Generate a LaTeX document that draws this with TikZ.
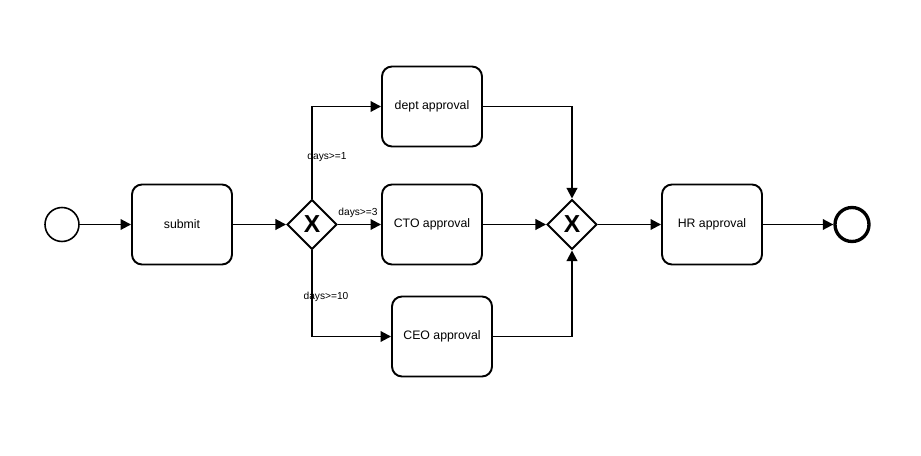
\documentclass[tikz,border=0pt]{standalone}
\usepackage{fontspec}
\setmainfont{Liberation Sans}
\usetikzlibrary{shapes.geometric,arrows.meta}
\begin{document}
\begin{tikzpicture}[x=0.02cm,y=-0.02cm,
task/.style={draw,line width=1.1pt,rounded corners=0.2cm,minimum width=2cm,minimum height=1.6cm,font=\fontsize{7}{8}\selectfont},
gate/.style={draw,diamond,line width=1.1pt,minimum size=1cm,inner sep=0pt,font=\fontsize{14}{14}\selectfont\bfseries},
event/.style={draw,circle,minimum size=0.68cm,inner sep=0pt},
cond/.style={font=\fontsize{5.8}{6}\selectfont,inner sep=1pt},
flow/.style={line width=1.1pt,-{Triangle[length=6pt,width=6pt]}}]
\useasboundingbox (0,0) rectangle (921,456);

%%%% nodes
%%%%
\node[event,line width=0.9pt](start) at(62,224.5) {};
\node[event,line width=1.9pt](stop) at(852,224.5) {};
\node[gate](g1) at(312,224.5) {X};
\node[gate](g2) at(572,224.5) {X};

\foreach \n \x \y \t in{
submit/182/224.5/submit,dept/432/106.5/dept approval,cto/432/224.5/CTO approval,%
ceo/442/336.5/CEO approval,hr/712/224.5/HR approval%
}{
\node[task](\n) at(\x,\y) {\t};
}

\node[cond](c1) at(327,157) {days>=1};
\node[cond](c3) at(358,213) {days>=3};
\node[cond](c10) at(326,297) {days>=10};

%%%% flows
%%%%
\foreach \u \v in{
start/submit,submit/g1,g1/cto,cto/g2,g2/hr,hr/stop%
}{
\draw[flow] (\u) -- (\v);
}
\draw[flow] (g1) |- (dept);
\draw[flow] (g1) |- (ceo);
\draw[flow] (dept) -| (g2);
\draw[flow] (ceo) -| (g2);

\end{tikzpicture}
\end{document}
